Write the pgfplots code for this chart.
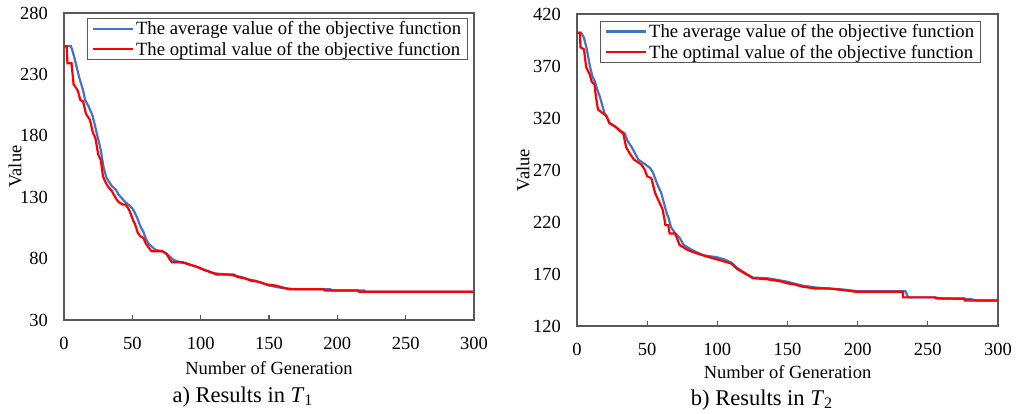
\documentclass[border=0pt]{standalone}
\usepackage{fontspec}
\setmainfont{Liberation Serif}
\usepackage{pgfplots}
\pgfplotsset{compat=1.18}

\definecolor{avgblue}{HTML}{4472C4}
\definecolor{optred}{HTML}{FF0000}
\definecolor{framegray}{HTML}{595959}

\pgfplotsset{
  evo/.style={
    scale only axis,
    anchor=south west,
    xmin=0, xmax=300,
    xtick={0,50,...,300},
    axis line style={draw=framegray, line width=1.2pt},
    tick align=inside,
    xtick pos=left,
    major tick length=5pt,
    xtick style={draw=framegray, line width=1.2pt},
    ytick style={draw=none},
    /pgf/number format/assume math mode=true,
    ticklabel style={font=\fontsize{18.5}{20}\selectfont},
    xticklabel style={anchor=north, inner sep=0pt, yshift=-17pt},
    yticklabel style={anchor=east, inner sep=0pt, xshift=-16pt},
    label style={font=\fontsize{18.5}{20}\selectfont},
    xlabel={Number of Generation},
    ylabel={Value},
    legend cell align=left,
    legend style={draw=framegray, line width=0.8pt, anchor=north west,
      font=\fontsize{18.7}{20.7}\selectfont,
      inner xsep=5pt, inner ysep=1.5pt, row sep=3pt,
      nodes={inner sep=1.5pt}},
    legend image code/.code={\draw[##1, line width=2.2pt] (0pt,0pt) -- (40pt,0pt);},
  },
}

\begin{document}
\begin{tikzpicture}
\useasboundingbox (0,0) rectangle (1023pt,414pt);

% ---- left: T1 ----
\begin{axis}[evo,
  at={(64pt,94pt)}, width=410pt, height=307pt,
  ymin=30, ymax=280, ytick={30,80,...,280},
  xlabel style={at={(axis description cs:0.5,0)}, anchor=center, yshift=-48pt},
  ylabel style={at={(axis description cs:0,0.5)}, anchor=center, yshift=49pt},
  legend style={at={(axis description cs:0.056,0.984)}},
]
\addplot[avgblue, line width=2.2pt] coordinates {
(0,253) (5,253) (6,250) (8,242) (11,228) (14,217) (15.5,209) (18,204) (21,196)
(24,182) (27,168) (28.8,155) (31,146) (35,139) (38,136) (40,132) (44,127)
(48,123) (50,121) (52,117) (54,112) (56,106) (58,102) (60,96) (62,92) (64,90)
(67,87) (72,86) (76,83) (80,79) (85,77) (90,76) (95,74) (100,72) (105,70)
(110,68) (120,67) (125,66) (130,65) (135,63) (140,62) (145,60) (150,58)
(155,57) (160,56) (165,55.5) (170,55) (195,55) (196,54) (220,54) (221,53) (300,53)
};
\addlegendentry{The average value of the objective function}
\addplot[optred, line width=2.2pt] coordinates {
(0,253) (2,253) (2.5,239) (5.5,239) (7,222) (10,217) (12,209) (14,208) (16,198)
(19,193) (21,183) (23,178) (25,165) (27,160) (28.5,147) (30,143) (32,139)
(35,135) (38,129) (40,126) (43,124) (45,124) (47,121) (49,116) (50.6,111)
(52,108) (54,101) (56,98) (58,97) (60,92) (62,89) (64,86) (72,86) (75,84)
(77,80) (79,77) (87,77) (92,75) (97,73.5) (102,71) (107,69) (112,67) (124,67)
(127,65) (132,64) (137,62) (143,61) (148,59) (155,58) (160,56.5) (165,55)
(190,55) (191,54) (215,54) (216,53) (300,53)
};
\addlegendentry{The optimal value of the objective function}
\end{axis}

% ---- right: T2 ----
\begin{axis}[evo,
  at={(577pt,88pt)}, width=421pt, height=312pt,
  ymin=120, ymax=420, ytick={120,170,...,420},
  xlabel style={at={(axis description cs:0.5,0)}, anchor=center, yshift=-46pt},
  ylabel style={at={(axis description cs:0,0.5)}, anchor=center, yshift=54pt},
  legend style={at={(axis description cs:0.0546,0.978)}},
]
\addplot[avgblue, line width=2.2pt] coordinates {
(0,402) (3,402) (5,397) (7,386) (9.3,369) (11,360) (12.8,355) (14.5,347)
(16.4,340) (19.5,325) (23.5,315) (28,311) (34,305) (36,298) (39,292)
(43.7,280) (48,276) (52,272) (54,268) (57,257) (60,248) (62,238) (64,228)
(65,225) (67,215) (70,209) (73,205) (76,198) (82,193) (90,188) (100,186)
(105,184) (110,181) (114,176) (118.5,172) (122,169) (125.6,166.5) (135,166)
(140,165) (150,162.5) (160,159) (170,157) (180,156) (190,155) (200,153.5)
(234,153.5) (236,147.5) (255,147.5) (260,146.5) (280,146) (285,144.5) (300,144.5)
};
\addlegendentry{The average value of the objective function}
\addplot[optred, line width=2.2pt] coordinates {
(0,402) (2,402) (2.5,388) (5,386) (6.5,369) (9,362) (10.5,355) (12.5,352)
(13.5,340) (15,328) (18,325) (21,322) (23,315) (27,312) (30,308) (33,305)
(35,292) (38,285) (40.6,280) (44,277) (46,275) (48,271) (50,264) (53,262)
(55.6,248) (59,238) (61,232) (62,225) (63,217) (65,217) (66,209) (70,209)
(73,198) (79,193) (85,190) (92,187) (100,184) (105,182) (110,180) (114,175)
(119,171) (123,168) (125,166) (135,165) (140,164) (145,163) (150,161)
(155,160) (160,158) (165,157) (170,156) (180,156) (190,154.5) (198,153)
(232,153) (232.5,147.5) (255,147.5) (256,146.5) (276,146.5) (276.5,144.5) (300,144.5)
};
\addlegendentry{The optimal value of the objective function}
\end{axis}

% ---- captions ----
\node[font=\fontsize{22.5}{24}\selectfont] at (242.5pt,17pt)
  {a) Results in \textit{T}\raisebox{-0.3ex}{\fontsize{16}{16}\selectfont 1}};
\node[font=\fontsize{22.5}{24}\selectfont] at (761.5pt,14pt)
  {b) Results in \textit{T}\raisebox{-0.3ex}{\fontsize{16}{16}\selectfont 2}};
\end{tikzpicture}
\end{document}
